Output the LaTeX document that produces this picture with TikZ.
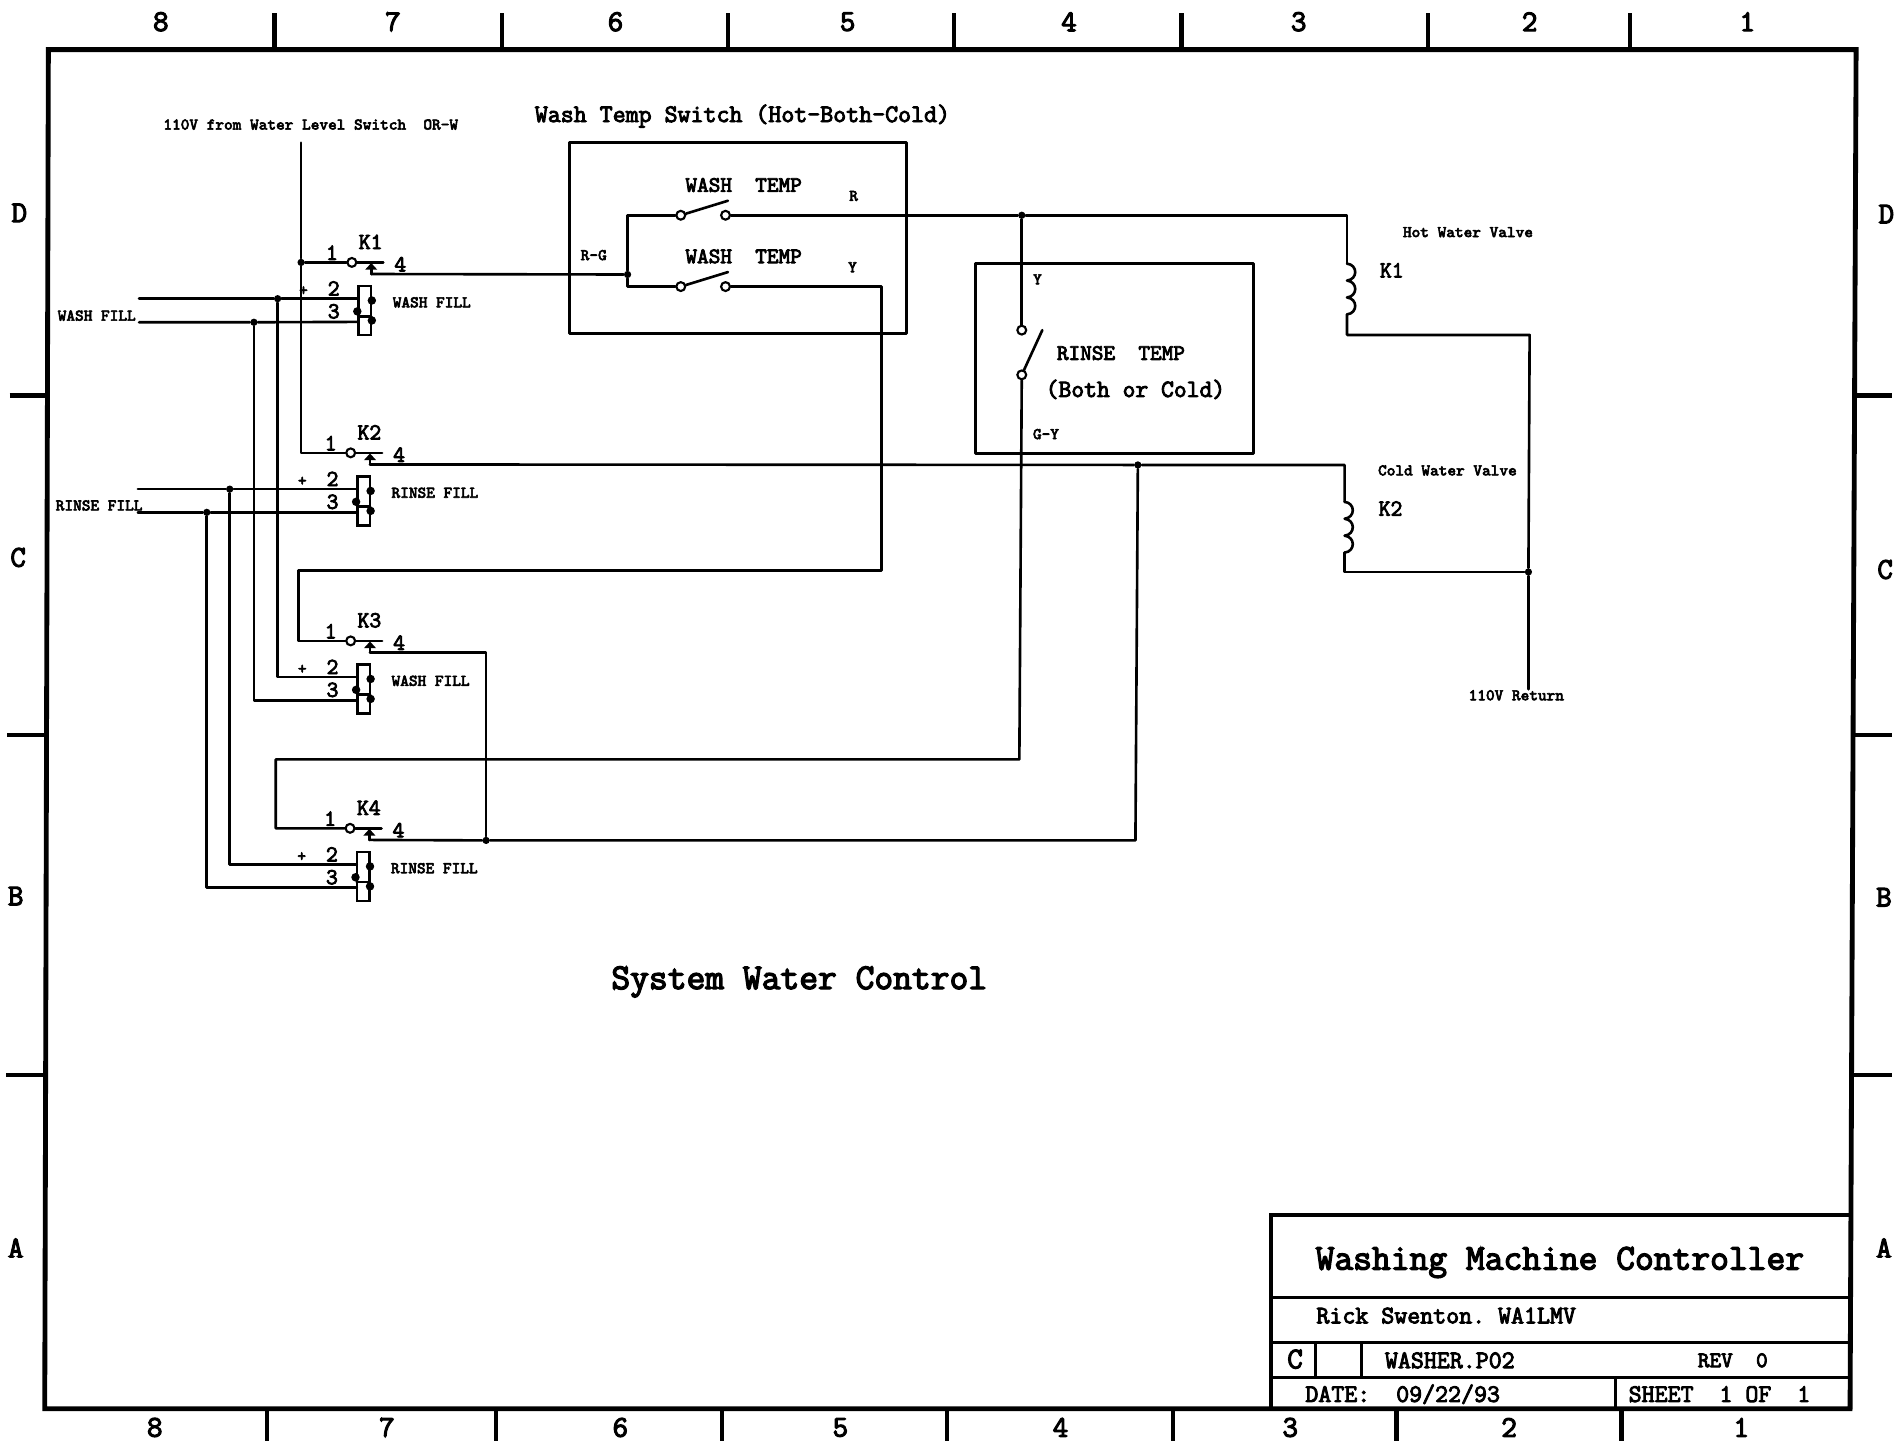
\documentclass[tikz,border=0pt]{standalone}
\usepackage{fontspec}
\setmonofont{Latin Modern Mono}[FakeBold=3.6]
\tikzset{
  wire/.style={line width=1.3pt,line cap=round,line join=round},
  boxline/.style={line width=1.5pt,line join=round},
  frameline/.style={line width=2.4pt,line join=miter},
  tickline/.style={line width=2.2pt},
  contact/.style={circle,draw,fill=white,line width=1.05pt,inner sep=0pt,minimum size=4.4pt},
  dot/.style={circle,fill=black,inner sep=0pt,minimum size=3.6pt},
  relaybox/.style={rectangle,draw,line width=1.2pt,fill=white,inner sep=0pt,minimum width=6.3pt,minimum height=24.3pt},
  tt/.style={font=\ttfamily,inner sep=0pt,text=black},
  t7/.style={tt,font=\ttfamily\fontsize{8.1}{9}\selectfont},
  t9/.style={tt,font=\ttfamily\fontsize{11}{12}\selectfont},
  t10/.style={tt,font=\ttfamily\fontsize{11.4}{12}\selectfont},
  t11/.style={tt,font=\ttfamily\fontsize{12.35}{13}\selectfont},
  t12/.style={tt,font=\ttfamily\fontsize{12.5}{13}\selectfont},
  t15/.style={tt,font=\ttfamily\fontsize{18.1}{19}\selectfont},
  tn/.style={tt,font=\ttfamily\fontsize{15}{16}\selectfont},
}
% relay: name, cx, cy, K label, fill label
\newcommand\relaypart[5]{
  \node[contact] (#1c) at (#2,#3) {};
  \coordinate (#1t) at ({#2+16},{#3+9.6});
  \coordinate (#1e) at ({#2+26},{#3});
  \draw[wire] (#1c) -- (#1e);
  \draw[wire] ({#2+16},{#3+4}) -- (#1t);
  \fill ({#2+16},{#3+0.5}) -- ({#2+21},{#3+6}) -- ({#2+11},{#3+6}) -- cycle;
  \node[relaybox] (#1b) at ({#2+10.8},{#3+39.7}) {};
  \draw[wire] ({#2+5.5},{#3+44.5}) -- ({#2+16},{#3+44.5});
  \coordinate (#1p) at ({#2+5.5},{#3+30});
  \coordinate (#1q) at ({#2+5.5},{#3+49.2});
  \fill ({#2+16.5},{#3+31.5}) circle (2.1pt);
  \fill ({#2+16.5},{#3+48}) circle (2.1pt);
  \fill ({#2+4.5},{#3+40.5}) circle (2.1pt);
  \node[t10] (#1kl) at ({#2+15.5},{#3-17}) {#4};
  \node[t10] (#1n1) at ({#2-16.5},{#3-8}) {1};
  \node[t10] (#1n4) at ({#2+40},{#3+1.5}) {4};
  \node[t7]  (#1np) at ({#2-40},{#3+23.5}) {+};
  \node[t10] (#1n2) at ({#2-15},{#3+21.5}) {2};
  \node[t10] (#1n3) at ({#2-15},{#3+40.5}) {3};
  \node[t7,anchor=west] (#1lb) at ({#2+33.5},{#3+33}) {#5};
}
% coil: three bumps going down from (x,y)
\newcommand\coilpart[3]{
  \draw[wire] (#2,#3)
    .. controls ({#2+9},{#3+1}) and ({#2+9},{#3+13}) .. (#2,{#3+14})
    .. controls ({#2+9},{#3+15}) and ({#2+9},{#3+27}) .. (#2,{#3+28})
    .. controls ({#2+9},{#3+29}) and ({#2+9},{#3+41}) .. (#2,{#3+42});
  \coordinate (#1a) at (#2,#3);
  \coordinate (#1b) at (#2,{#3+42});
}
\begin{document}
\begin{tikzpicture}[x=0.6pt,y=-0.6pt]
\useasboundingbox (0,0) rectangle (1568,1192);
% ---- sheet frame
\draw[frameline] (40,41) -- (1535,41) -- (1530,1165) -- (37,1165) -- cycle;
\foreach \x in {227,415,602,789,977,1181,1348}{\draw[tickline] (\x,11) -- (\x,41);}
\foreach \x in {221,410,597,783,970,1155,1341}{\draw[tickline] (\x,1165) -- (\x,1192);}
\foreach \y/\a/\b in {327/8/39,608/6/38,889/5/38}{\draw[tickline] (\a,\y) -- (\b,\y);}
\foreach \y in {327,608,889}{\draw[tickline] (1533,\y) -- (1565,\y);}
\foreach \x/\l in {133/8,325/7,509/6,701/5,884/4,1074/3,1265/2,1445/1}{\node[tn] at (\x,18) {\l};}
\foreach \x/\l in {128/8,320/7,513/6,695/5,877/4,1067/3,1248/2,1440/1}{\node[tn] at (\x,1180.5) {\l};}
\foreach \x/\y/\l in {16/176/D,15/461/C,13/741/B,13/1032/A,1560/177/D,1559/471/C,1558/742/B,1558/1032/A}{\node[tn] at (\x,\y) {\l};}
% ---- title block
\draw[frameline,line width=1.9pt] (1051,1165) -- (1051,1005) -- (1532,1005);
\draw[boxline] (1051,1073) -- (1530,1073);
\draw[boxline] (1051,1110) -- (1530,1110);
\draw[boxline] (1051,1139) -- (1530,1139);
\draw[boxline] (1088,1110) -- (1088,1139);
\draw[boxline] (1126,1110) -- (1126,1139);
\draw[boxline] (1336,1139) -- (1336,1165);
\node[t15] (title) at (1290,1044) {Washing Machine Controller};
\node[t12] (author) at (1196,1088) {Rick Swenton. WA1LMV};
\node[tn]  (csize) at (1071,1124) {C};
\node[t12] (fname) at (1199,1125) {WASHER.P02};
\node[t9] (rev) at (1433,1125) {REV\ \ 0};
\node[t12] (date) at (1160,1153) {DATE:\ \ 09/22/93};
\node[t12] (sheet) at (1422,1153) {SHEET\ \ 1 OF\ \ 1};
% ---- headings
\node[t7] (src) at (257,103) {110V from Water Level Switch\ \ OR-W};
\node[t12] (wsw) at (614,96) {Wash Temp Switch (Hot-Both-Cold)};
\node[t15] (sys) at (661,812) {System Water Control};
% ---- wash temp switch
\draw[boxline] (471,118) rectangle (750,276);
\node[t9] (wt1) at (615,153) {WASH\ \ TEMP};
\node[t9] (wt2) at (615,212) {WASH\ \ TEMP};
\node[t7] at (706,162) {R};
\node[t7] at (705,221) {Y};
\node[t7] at (491,211) {R-G};
\node[contact] (s1a) at (563,178) {};
\node[contact] (s1b) at (600,178) {};
\node[contact] (s2a) at (563,237) {};
\node[contact] (s2b) at (600,237) {};
\coordinate (s1e) at (602,166);
\coordinate (s2e) at (602,225);
\draw[wire] (s1a) -- (s1e);
\draw[wire] (s2a) -- (s2e);
% ---- rinse temp switch
\draw[boxline] (807,218) rectangle (1037,375);
\node[t7] at (858,231) {Y};
\node[t7] at (865,359) {G-Y};
\node[t9] (rt1) at (927,292) {RINSE\ \ TEMP};
\node[t11] (rt2) at (939,322) {(Both or Cold)};
\node[contact] (r1a) at (845,273) {};
\node[contact] (r1b) at (845,310) {};
\coordinate (r1e) at (862,273);
\draw[wire] (r1b) -- (r1e);
% ---- relays
\relaypart{ka}{291}{217}{K1}{WASH FILL}
\relaypart{kb}{290}{374.5}{K2}{RINSE FILL}
\relaypart{kc}{290}{530}{K3}{WASH FILL}
\relaypart{kd}{289.5}{685}{K4}{RINSE FILL}
% ---- coils
\coilpart{ca}{1114}{218}
\coilpart{cb}{1112}{415}
\node[t10] at (1151,223.5) {K1};
\node[t10] at (1150,420.5) {K2};
\node[t7] at (1214,192) {Hot Water Valve};
\node[t7] at (1197,389) {Cold Water Valve};
\node[t7] at (1254,575) {110V Return};
\node[t7] at (80,261) {WASH FILL};
\node[t7] at (82,418) {RINSE FILL};
% ---- junctions
\node[dot] (j110) at (249,217) {};
\node[dot] (jw1) at (229.6,247) {};
\node[dot] (jw2) at (210,266.5) {};
\node[dot] (jr1) at (190,404.5) {};
\node[dot] (jr2) at (171,423.7) {};
\node[dot] (jrg) at (519,227) {};
\node[dot] (jhot) at (845,178) {};
\node[dot] (jcold) at (941,384.5) {};
\node[dot] (jret) at (1264,473) {};
\node[dot] (jc4) at (402,695) {};
% ---- free ends and corners
\coordinate (src0) at (249,118);
\coordinate (ww1) at (115,247);
\coordinate (ww2) at (115,266.5);
\coordinate (rw1) at (114,404.5);
\coordinate (rw2) at (114,423.7);
\coordinate (ret) at (1264,570);
\coordinate (ka2) at (1265,277);
% ---- wiring
\draw[wire] (src0) -- (j110);
\draw[wire] (j110) -- (kac);
\draw[wire] (j110) |- (kbc);
\draw[wire] (ww1) -- (jw1) -- (kap);
\draw[wire] (ww2) -- (jw2) -- (kaq);
\draw[wire] (rw1) -- (jr1) -- (kbp);
\draw[wire] (rw2) -- (jr2) -- (kbq);
\draw[wire] (jw1) |- (kcp);
\draw[wire] (jw2) |- (kcq);
\draw[wire] (jr1) |- (kdp);
\draw[wire] (jr2) |- (kdq);
\draw[wire] (kat) -- (jrg);
\draw[wire] (jrg) |- (s1a);
\draw[wire] (jrg) |- (s2a);
\draw[wire] (s1b) -- (jhot) -| (caa);
\draw[wire] (jhot) -- (r1a);
\draw[wire] (s2b) -| (729,472) -| (247,530) -- (kcc);
\draw[wire] (r1b) -- (843,628) -| (228,685) -- (kdc);
\draw[wire] (kbt) -- (jcold) -| (cba);
\draw[wire] (jcold) -- (939,695) -- (jc4);
\draw[wire] (kdt) -- (jc4);
\draw[wire] (kct) -| (jc4);
\draw[wire] (cab) |- (ka2) -- (jret);
\draw[wire] (cbb) |- (jret);
\draw[wire] (jret) -- (ret);
\end{tikzpicture}
\end{document}
